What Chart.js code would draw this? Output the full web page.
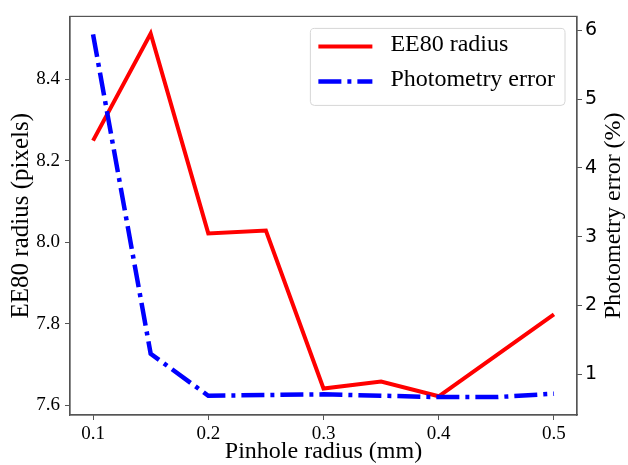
<!DOCTYPE html>
<html lang="en">
<head>
  <meta charset="UTF-8" />
  <title>EE80 radius and photometry error</title>
  <script src="https://cdn.jsdelivr.net/npm/chart.js@4"></script>
  <style>
    body { margin: 0; background: #fff; }
    #wrap { width: 628px; height: 465px; }
  </style>
</head>
<body>
  <div id="wrap"><canvas id="chartCanvas" width="628" height="465"></canvas></div>

  <script>
    // values
    const ee80X = [0.1, 0.15, 0.2, 0.25, 0.3, 0.35, 0.4, 0.5];
    const ee80Radius = [8.25, 8.513, 8.022, 8.029, 7.641, 7.658, 7.622, 7.823];
    const errorX = [0.1, 0.15, 0.2, 0.25, 0.3, 0.35, 0.4, 0.45, 0.5];
    const photometryError = [5.94, 1.30, 0.69, 0.70, 0.71, 0.69, 0.67, 0.67, 0.72];

    const xTicks = [0.1, 0.2, 0.3, 0.4, 0.5];
    const leftTicks = [7.6, 7.8, 8.0, 8.2, 8.4];
    const rightTicks = [1, 2, 3, 4, 5, 6];

    const serif = "'Liberation Serif', 'Times New Roman', serif";
    const sans = "'DejaVu Sans', sans-serif";
    const spine = "#555";

    function toPoints(xs, ys) {
      return xs.map((x, i) => ({ x: x, y: ys[i] }));
    }

    // frame, right-hand title and the boxed legend
    const extras = {
      id: "extras",
      afterDraw(chart) {
        const ctx = chart.ctx;
        const a = chart.chartArea;
        ctx.save();

        ctx.strokeStyle = spine;
        ctx.lineWidth = 1.2;
        ctx.strokeRect(a.left, a.top, a.right - a.left, a.bottom - a.top);

        // right axis title reads bottom to top like the left one
        ctx.fillStyle = "#000";
        ctx.font = "24px " + serif;
        ctx.textAlign = "center";
        ctx.textBaseline = "middle";
        ctx.translate(614, (a.top + a.bottom) / 2);
        ctx.rotate(-Math.PI / 2);
        ctx.fillText("Photometry error (%)", 0, 0);
        ctx.restore();

        // legend
        ctx.save();
        ctx.font = "24px " + serif;
        const sets = chart.data.datasets;
        let textW = 0;
        sets.forEach(d => { textW = Math.max(textW, ctx.measureText(d.label).width); });
        const lineLen = 54, padL = 8, gap = 18, padR = 10, rowH = 35;
        const w = padL + lineLen + gap + textW + padR;
        const h = 77;
        const x0 = a.right - 12 - w;
        const y0 = a.top + 12;

        ctx.beginPath();
        ctx.roundRect(x0, y0, w, h, 4);
        ctx.fillStyle = "rgba(255,255,255,0.8)";
        ctx.fill();
        ctx.strokeStyle = "#d6d6d6";
        ctx.lineWidth = 1;
        ctx.stroke();

        sets.forEach((d, i) => {
          const cy = y0 + 18 + i * rowH;
          ctx.beginPath();
          ctx.setLineDash(d.borderDash || []);
          ctx.lineWidth = d.borderWidth;
          ctx.strokeStyle = d.borderColor;
          ctx.lineCap = "butt";
          ctx.moveTo(x0 + padL, cy);
          ctx.lineTo(x0 + padL + lineLen, cy);
          ctx.stroke();
          ctx.setLineDash([]);
          ctx.fillStyle = "#000";
          ctx.textAlign = "left";
          ctx.textBaseline = "middle";
          ctx.fillText(d.label, x0 + padL + lineLen + gap, cy - 2);
        });
        ctx.restore();
      }
    };

    const ctx = document.getElementById("chartCanvas").getContext("2d");
    const chart = new Chart(ctx, {
      type: "line",
      data: {
        datasets: [
          {
            label: "EE80 radius",
            data: toPoints(ee80X, ee80Radius),
            yAxisID: "yLeft",
            borderColor: "#ff0000",
            borderWidth: 4,
            pointRadius: 0,
            tension: 0,
            order: 1
          },
          {
            label: "Photometry error",
            data: toPoints(errorX, photometryError),
            yAxisID: "yRight",
            borderColor: "#0000ff",
            borderWidth: 4.5,
            borderDash: [23, 6, 4, 6],
            pointRadius: 0,
            tension: 0,
            order: 0
          }
        ]
      },
      options: {
        responsive: false,
        animation: false,
        layout: { padding: { top: 11, left: 0, right: 0, bottom: 0 } },
        plugins: {
          legend: { display: false },
          tooltip: { enabled: false }
        },
        scales: {
          x: {
            type: "linear",
            min: 0.08,
            max: 0.52,
            afterBuildTicks: s => { s.ticks = xTicks.map(v => ({ value: v })); },
            afterFit: s => { s.height = 50; },
            ticks: {
              callback: v => v.toFixed(1),
              font: { family: serif, size: 19 },
              color: "#000",
              padding: 3,
              maxRotation: 0
            },
            grid: { drawOnChartArea: false, drawTicks: true, tickLength: 5, color: spine },
            border: { display: true, color: spine, width: 1.2 },
            title: {
              display: true,
              text: "Pinhole radius (mm)",
              font: { family: serif, size: 24, lineHeight: 1 },
              color: "#000",
              padding: { top: 0, bottom: 1 }
            }
          },
          yLeft: {
            type: "linear",
            position: "left",
            min: 7.576,
            max: 8.555,
            afterBuildTicks: s => { s.ticks = leftTicks.map(v => ({ value: v })); },
            afterFit: s => { s.width = 70; },
            ticks: {
              callback: v => v.toFixed(1),
              font: { family: serif, size: 19 },
              color: "#000",
              padding: 5
            },
            grid: { drawOnChartArea: false, drawTicks: true, tickLength: 5, color: spine },
            border: { display: true, color: spine, width: 1.2 },
            title: {
              display: true,
              text: "EE80 radius (pixels)",
              font: { family: serif, size: 25, lineHeight: 1 },
              color: "#000",
              padding: { top: 9, bottom: 0 }
            }
          },
          yRight: {
            type: "linear",
            position: "right",
            min: 0.41,
            max: 6.2,
            afterBuildTicks: s => { s.ticks = rightTicks.map(v => ({ value: v })); },
            afterFit: s => { s.width = 51; },
            ticks: {
              callback: v => String(v),
              font: { family: sans, size: 19 },
              color: "#000",
              padding: 3
            },
            grid: { drawOnChartArea: false, drawTicks: true, tickLength: 5, color: spine },
            border: { display: true, color: spine, width: 1.2 }
          }
        }
      },
      plugins: [extras]
    });
  </script>
</body>
</html>
